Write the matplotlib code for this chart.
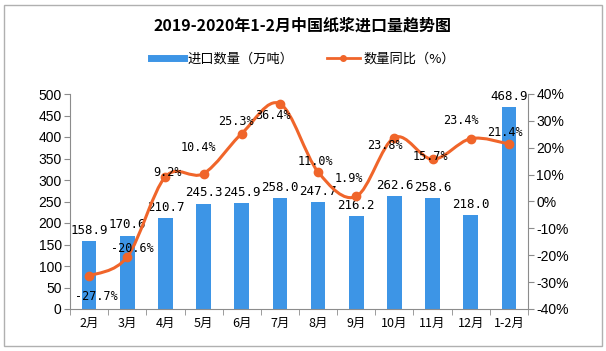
import numpy as np
import matplotlib
matplotlib.use("Agg")
import matplotlib.pyplot as plt
from matplotlib.path import Path
from matplotlib.patches import PathPatch, Rectangle
from matplotlib.lines import Line2D

plt.rcParams['font.family'] = ['Noto Sans CJK SC', 'DejaVu Sans']

# data
months = ['2月', '3月', '4月', '5月', '6月', '7月', '8月', '9月', '10月', '11月', '12月', '1-2月']
volume = [158.9, 170.6, 210.7, 245.3, 245.9, 258.0, 247.7, 216.2, 262.6, 258.6, 218.0, 468.9]
yoy = [-27.7, -20.6, 9.2, 10.4, 25.3, 36.4, 11.0, 1.9, 23.8, 15.7, 23.4, 21.4]

# label offsets (pixels) for the percent labels
pct_off = [(7, -21), (5, 8), (2, 4), (-5, 26), (-6, 12), (-7, -12),
           (-3, 10), (-7, 18), (-9, -8), (-2, 3), (-10, 18), (-4, 11)]

blue = '#3d95e6'
orange = '#f0652a'
grey = '#8c8c8c'

fig = plt.figure(figsize=(6.06, 3.51), dpi=100)
fig.patches.append(Rectangle((0.006, 0.014), 0.988, 0.972, transform=fig.transFigure,
                             fill=False, edgecolor='#b0b0b0', lw=1))

ax = fig.add_axes([70/606, 1-309/351, 458/606, 215/351])
x = np.arange(len(months))
ax.bar(x, volume, width=0.38, color=blue, zorder=2)
ax.set_xlim(-0.5, len(months)-0.5)
ax.set_ylim(0, 500)
ax.set_yticks(range(0, 501, 50))
ax.set_xticks(x)
ax.set_xticklabels(months, fontsize=9)
ax.set_xticks(np.arange(-0.5, len(months), 1), minor=True)
ax.tick_params(axis='x', which='major', length=0, pad=6)
ax.tick_params(axis='x', which='minor', length=4, color=grey)
ax.tick_params(axis='y', length=4, color=grey, labelsize=10, pad=2)
for lab in ax.get_yticklabels():
    lab.set_family(['Liberation Sans'])
for s in ['top', 'right']:
    ax.spines[s].set_visible(False)
for s in ['left', 'bottom']:
    ax.spines[s].set_color(grey)

for xi, v in zip(x, volume):
    ax.annotate(f'{v:.1f}', (xi, v), xytext=(0, 3), textcoords='offset points',
                ha='center', va='bottom', fontsize=9, family=['DejaVu Sans Mono'], zorder=5)

ax2 = ax.twinx()
ax2.set_ylim(-40, 40)
ax2.set_yticks(range(-40, 41, 10))
ax2.set_yticklabels([f'{t}%' for t in range(-40, 41, 10)], family=['Liberation Sans'])
ax2.tick_params(axis='y', length=4, color=grey, labelsize=10, pad=2)
for s in ['top', 'left', 'bottom']:
    ax2.spines[s].set_visible(False)
ax2.spines['right'].set_color(grey)

# smooth line through the points (Catmull-Rom as cubic Bezier)
pts = np.column_stack([x, yoy]).astype(float)
verts = [pts[0]]
codes = [Path.MOVETO]
t = 1/6
for i in range(len(pts)-1):
    p0 = pts[i-1] if i > 0 else pts[i]
    p1, p2 = pts[i], pts[i+1]
    p3 = pts[i+2] if i+2 < len(pts) else pts[i+1]
    verts += [p1 + (p2-p0)*t, p2 - (p3-p1)*t, p2]
    codes += [Path.CURVE4]*3
ax2.add_patch(PathPatch(Path(verts, codes), fill=False, edgecolor=orange, lw=2.2, zorder=3))
ax2.plot(x, yoy, 'o', color=orange, ms=6, zorder=4)

for xi, v, (dx, dy) in zip(x, yoy, pct_off):
    ax2.annotate(f'{v:.1f}%', (xi, v), xytext=(dx*0.72, dy*0.72), textcoords='offset points',
                 ha='center', va='center', fontsize=8.5, family=['DejaVu Sans Mono'], zorder=5)

fig.text(0.5, 1-26/351, '2019-2020年1-2月中国纸浆进口量趋势图', ha='center', va='center',
         fontsize=11.5, fontweight='bold')

handles = [Line2D([], [], color=blue, lw=5),
           Line2D([], [], color=orange, lw=2, marker='o', ms=4)]
fig.legend(handles, ['进口数量（万吨）', '数量同比（%）'], loc='center',
           bbox_to_anchor=(0.5, 1-59/351), ncol=2, frameon=False, fontsize=9.5,
           handlelength=2.5, columnspacing=2.5, handletextpad=0.3)

fig.savefig('out.png', dpi=100)
